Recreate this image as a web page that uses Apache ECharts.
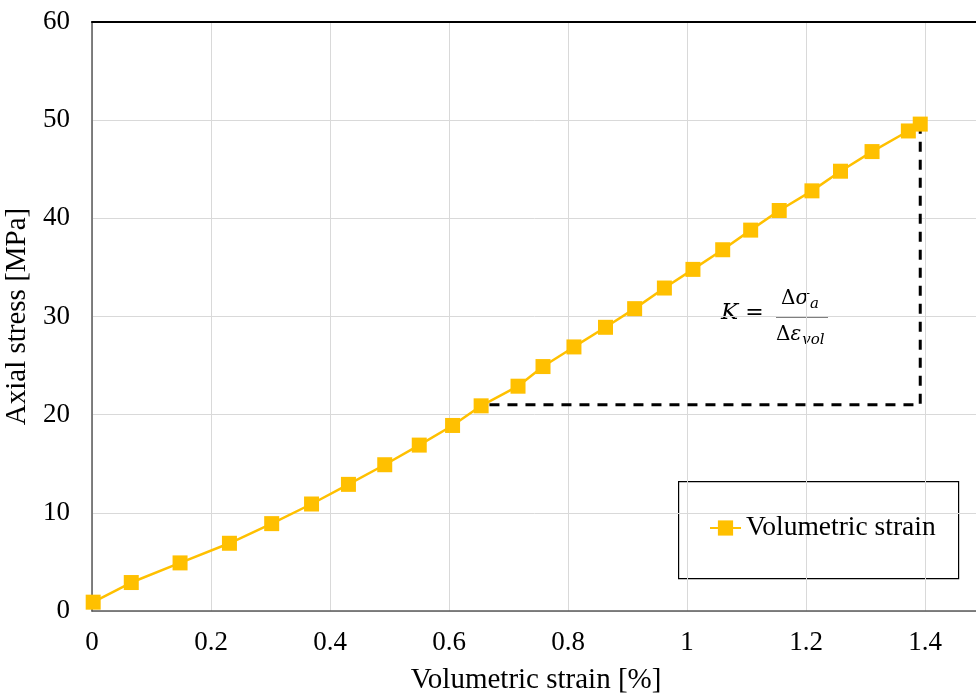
<!DOCTYPE html>
<html>
<head>
<meta charset="utf-8">
<script src="https://cdn.jsdelivr.net/npm/echarts@6/dist/echarts.min.js"></script>
<style>
  html, body { margin: 0; padding: 0; background: #ffffff; }
  #chart { width: 976px; height: 698px; }
</style>
</head>
<body>
<div id="chart"></div>
<script>
// Volumetric strain [%] vs axial stress [MPa]
const strain = [0.002, 0.066, 0.148, 0.231, 0.302, 0.369, 0.431, 0.492, 0.550, 0.606,
                0.654, 0.716, 0.758, 0.810, 0.863, 0.912, 0.962, 1.010, 1.060, 1.107,
                1.155, 1.210, 1.258, 1.311, 1.372, 1.392];
const stress = [0.9, 2.9, 4.9, 6.9, 8.9, 10.9, 12.9, 14.9, 16.9, 18.9,
                20.9, 22.9, 24.9, 26.9, 28.9, 30.8, 32.9, 34.8, 36.8, 38.8,
                40.8, 42.8, 44.8, 46.8, 48.9, 49.6];

// Bulk modulus construction: horizontal leg at 21 MPa, vertical leg at the last point
const slopeStrain = [0.668, 1.392, 1.392];
const slopeStress = [21.0, 21.0, 49.3];

const seriesName = 'Volumetric strain';
const xTitle = 'Volumetric strain [%]';
const yTitle = 'Axial stress [MPa]';

const serif = '"Liberation Serif", "Times New Roman", serif';
const mathFont = '"DejaVu Serif", serif';
const chart = echarts.init(document.getElementById('chart'));

chart.setOption({
  backgroundColor: '#ffffff',
  animation: false,
  grid: { left: 92, top: 22, width: 952, height: 589, outerBoundsMode: 'none', containLabel: false },
  xAxis: [{
    type: 'value', min: 0, max: 1.6, interval: 0.2,
    axisLine: { show: true, onZero: false, lineStyle: { color: '#595959', width: 1.5 } },
    axisTick: { show: false },
    axisLabel: { color: '#000', fontSize: 27, fontFamily: serif, margin: 18 },
    splitLine: { show: true, lineStyle: { color: '#d9d9d9', width: 1 } }
  }, {
    type: 'value', position: 'top', min: 0, max: 1.6,
    axisLine: { show: true, onZero: false, lineStyle: { color: '#000', width: 2 } },
    axisTick: { show: false }, axisLabel: { show: false }, splitLine: { show: false }
  }],
  yAxis: {
    type: 'value', min: 0, max: 60, interval: 10,
    name: yTitle, nameLocation: 'middle', nameGap: 54, nameRotate: 90,
    nameTextStyle: { color: '#000', fontSize: 29, fontFamily: serif },
    axisLine: { show: true, lineStyle: { color: '#595959', width: 1.5 } },
    axisTick: { show: false },
    axisLabel: { color: '#000', fontSize: 27, fontFamily: serif, margin: 22 },
    splitLine: { show: true, lineStyle: { color: '#d9d9d9', width: 1 } }
  },
  legend: {
    left: 709, top: 514, padding: 0,
    itemWidth: 31, itemHeight: 19, itemGap: 0,
    textStyle: { color: '#000', fontSize: 27.5, fontFamily: serif },
    data: [seriesName]
  },
  graphic: [
    { type: 'rect', left: 678, top: 481, shape: { width: 280, height: 97 },
      style: { fill: '#fff', stroke: '#000', lineWidth: 1.2 }, z: 0 },
    { type: 'text', x: 536, y: 680,
      style: { text: xTitle, fill: '#000', font: '29px ' + serif, align: 'center', verticalAlign: 'middle' } },
    { type: 'text', left: 721, top: 302,
      style: { text: '{i|K} =', fill: '#000', font: '22px ' + mathFont,
        rich: { i: { fontStyle: 'italic', fontSize: 23, fontFamily: mathFont } } } },
    { type: 'text', left: 781, top: 289,
      style: { text: 'Δ{i|σ}{s|a}', fill: '#000', font: '20px ' + mathFont,
        rich: { i: { fontStyle: 'italic', fontSize: 20, fontFamily: mathFont },
                s: { fontStyle: 'italic', fontSize: 15, fontFamily: mathFont, padding: [10, 0, 0, 1] } } } },
    { type: 'line', shape: { x1: 776, y1: 317, x2: 828, y2: 317 },
      style: { stroke: '#000', lineWidth: 1.2 } },
    { type: 'text', left: 776, top: 325,
      style: { text: 'Δ{i|ε}{s|vol}', fill: '#000', font: '20px ' + mathFont,
        rich: { i: { fontStyle: 'italic', fontSize: 20, fontFamily: mathFont },
                s: { fontStyle: 'italic', fontSize: 15, fontFamily: mathFont, padding: [10, 0, 0, 1] } } } }
  ],
  series: [{
    name: 'slope',
    type: 'line',
    data: slopeStrain.map((x, i) => [x, slopeStress[i]]),
    showSymbol: false, symbol: 'none',
    lineStyle: { color: '#000', width: 3, type: [10, 8] },
    z: 1, silent: true
  }, {
    name: seriesName,
    type: 'line',
    data: strain.map((x, i) => [x, stress[i]]),
    symbol: 'rect', symbolSize: 15,
    itemStyle: { color: '#FFC000' },
    lineStyle: { color: '#FFC000', width: 2.5 },
    z: 3
  }]
});
</script>
</body>
</html>
